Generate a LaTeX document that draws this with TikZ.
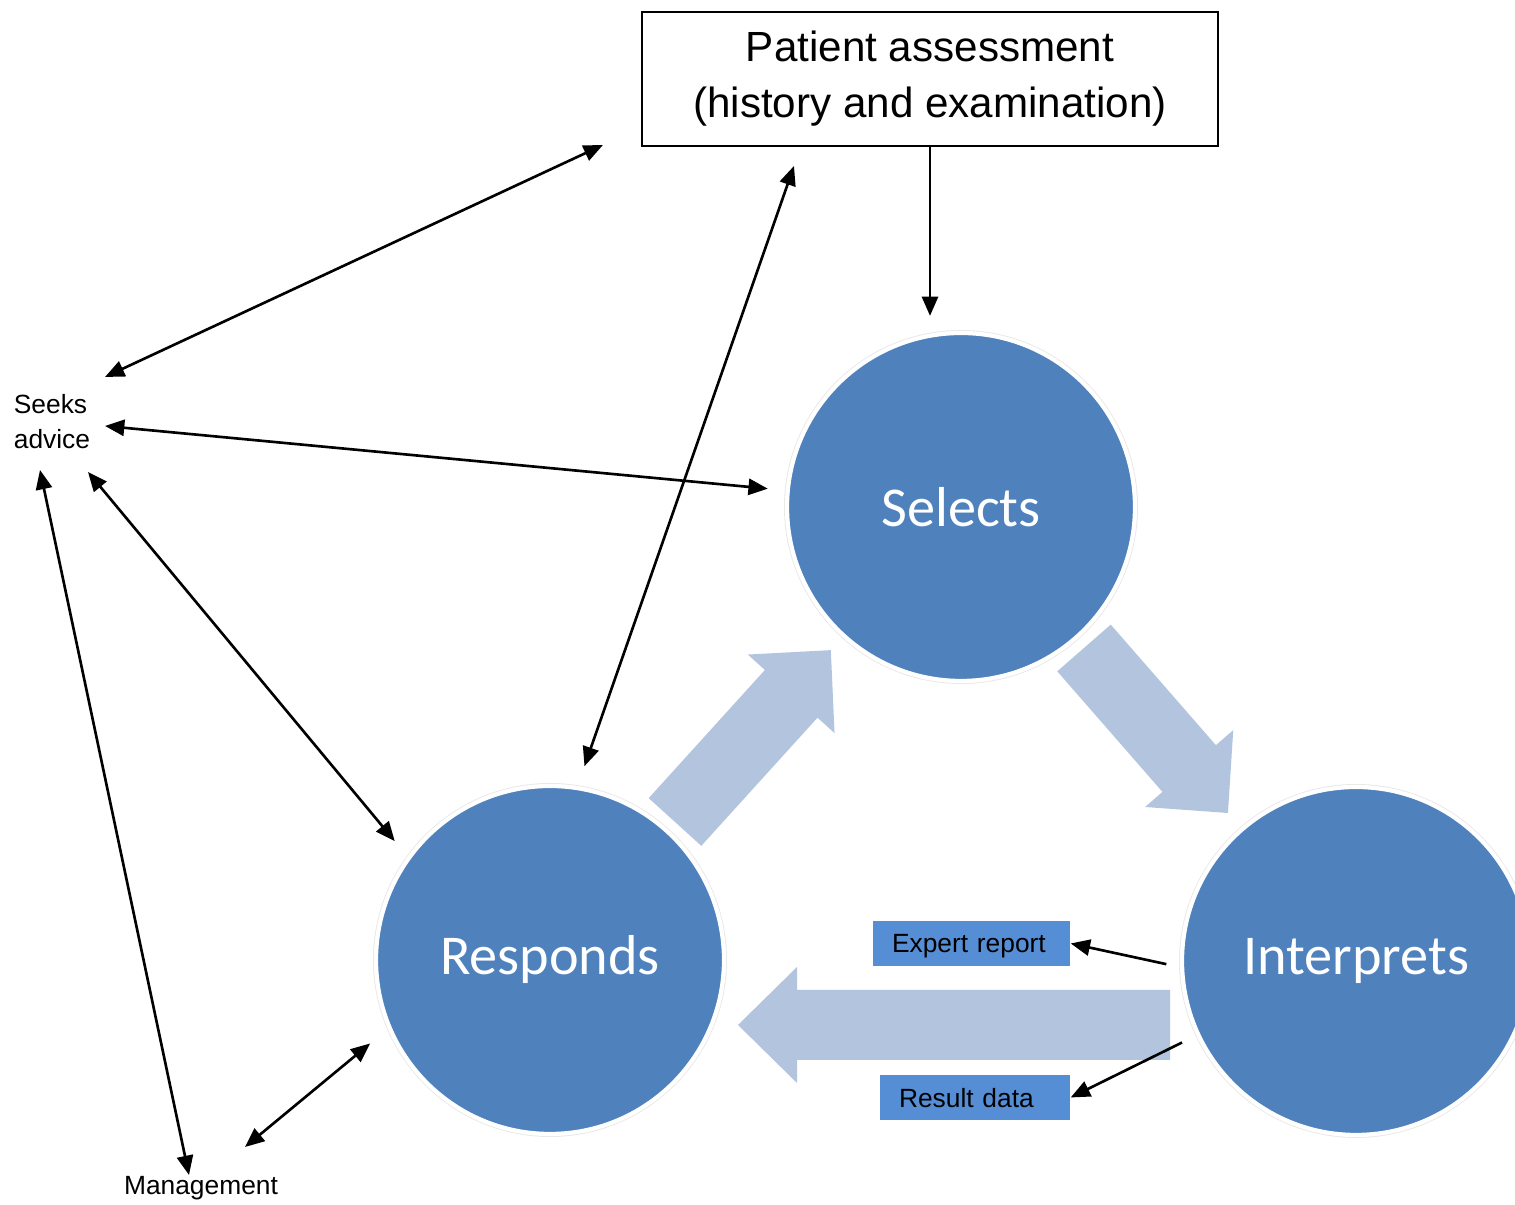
\documentclass[tikz,border=0pt]{standalone}
\usepackage{fontspec}
\setmainfont{Liberation Sans}
\newfontfamily\calibri{Carlito}
\usepackage{tikz}
\usetikzlibrary{arrows.meta}

\definecolor{stageblue}{RGB}{79,129,189}
\definecolor{boxblue}{RGB}{85,142,213}
\definecolor{flowblue}{RGB}{179,196,223}

\begin{document}
\begin{tikzpicture}[
        >={Triangle[length=5.5pt,width=4.6pt]},
        stage/.style={circle, minimum size=3.48cm, inner sep=0pt, fill=stageblue,
            draw=white, line width=1.2pt, preaction={draw=gray!18, line width=1.7pt},
            text=white, font=\calibri\fontsize{16}{19}\selectfont},
        output/.style={fill=boxblue, inner xsep=0.19cm, inner ysep=0pt, minimum height=0.45cm,
            text depth=0pt, align=left, font=\fontsize{7.5}{10}\selectfont},
        label/.style={align=left, inner sep=0pt, font=\fontsize{7.5}{10}\selectfont},
        link/.style={line width=0.75pt},
        flow/.style={fill=flowblue}
    ]
            \useasboundingbox (0,0) rectangle (15.15,12.05);

            % wide arrows of the cycle
            \begin{scope}[shift={(6.75,3.83)}, rotate=47.8]
                \fill[flow] (0,-0.355) -- (1.73,-0.355) -- (1.73,-0.585) -- (2.32,0)
                    -- (1.73,0.585) -- (1.73,0.355) -- (0,0.355) -- cycle;
            \end{scope}
            \begin{scope}[shift={(10.84,5.57)}, rotate=-48.9]
                \fill[flow] (0,-0.355) -- (1.60,-0.355) -- (1.60,-0.585) -- (2.19,0)
                    -- (1.60,0.585) -- (1.60,0.355) -- (0,0.355) -- cycle;
            \end{scope}
            \begin{scope}[shift={(11.70,1.80)}, rotate=180]
                \fill[flow] (0,-0.35) -- (3.73,-0.35) -- (3.73,-0.58) -- (4.32,0)
                    -- (3.73,0.58) -- (3.73,0.35) -- (0,0.35) -- cycle;
            \end{scope}

            % nodes
            \node[draw, line width=0.6pt, minimum width=5.76cm, minimum height=1.34cm,
                align=center, font=\fontsize{12}{16}\selectfont] (patient) at (9.30,11.26)
                {Patient assessment\\(history and examination)};
            \node[stage] (selects) at (9.61,6.98) {Selects};
            \node[stage] (responds) at (5.50,2.45) {Responds};
            \node[stage] (interprets) at (13.56,2.44) {Interprets};
            \node[output, text width=1.59cm] (expert) at (9.715,2.615) {Expert report};
            \node[output, text width=1.52cm] (result) at (9.75,1.075) {Result data};
            \node[label] (seeks) at (0.52,7.83) {Seeks\\advice};
            \node[label] (management) at (2.01,0.17) {Management};

            % free ends of the thin arrows
            \coordinate (sa1) at (1.05,8.28);
            \coordinate (sa2) at (1.05,7.79);
            \coordinate (sa3) at (0.88,7.33);
            \coordinate (sa4) at (0.40,7.35);
            \coordinate (pa1) at (6.03,10.60);
            \coordinate (pa2) at (7.94,10.39);
            \coordinate (ma1) at (1.89,0.30);
            \coordinate (ma2) at (2.45,0.58);

            % thin arrows
            \draw[->, link, shorten >=0.15cm] (patient.south) -- (patient.south |- selects.north);
            \draw[<->, link] (sa1) -- (pa1);
            \draw[<->, link, shorten >=0.18cm] (sa2) -- (selects);
            \draw[<->, link, shorten >=0.2cm] (sa3) -- (responds.144);
            \draw[<->, link] (sa4) -- (ma1);
            \draw[<->, link, shorten >=0.23cm] (ma2) -- (responds.203);
            \draw[<->, link, shorten <=0.21cm] (responds.81) -- (pa2);
            \draw[->, link, shorten <=0.14cm] (interprets.182) -- (expert.east);
            \draw[->, link, shorten <=0.16cm] (interprets.205) -- (result.east);
        \end{tikzpicture}
\end{document}
